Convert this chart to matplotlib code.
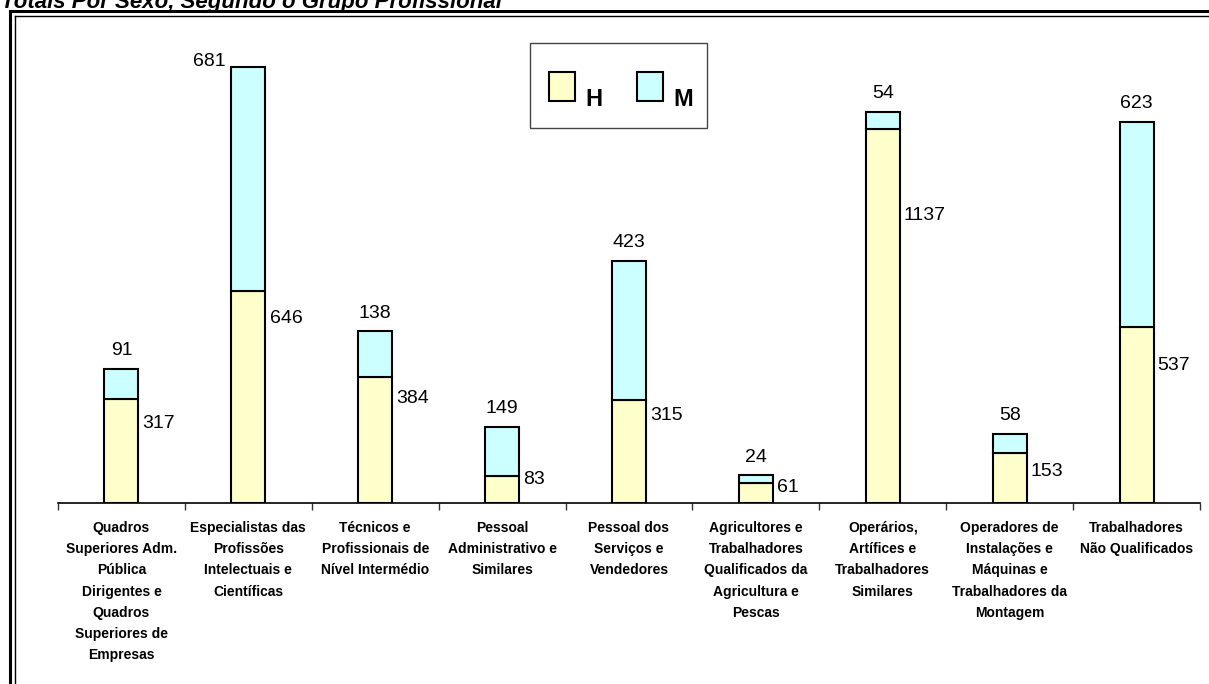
import matplotlib
matplotlib.use("Agg")
import matplotlib.pyplot as plt
from matplotlib.patches import Rectangle
from matplotlib.lines import Line2D

plt.rcParams["font.family"] = ["Liberation Sans", "DejaVu Sans"]

TITLE = "Totais Por Sexo, Segundo o Grupo Profissional"
CATEGORIES = [
    "Quadros\nSuperiores Adm.\nPública\nDirigentes e\nQuadros\nSuperiores de\nEmpresas",
    "Especialistas das\nProfissões\nIntelectuais e\nCientíficas",
    "Técnicos e\nProfissionais de\nNível Intermédio",
    "Pessoal\nAdministrativo e\nSimilares",
    "Pessoal dos\nServiços e\nVendedores",
    "Agricultores e\nTrabalhadores\nQualificados da\nAgricultura e\nPescas",
    "Operários,\nArtífices e\nTrabalhadores\nSimilares",
    "Operadores de\nInstalações e\nMáquinas e\nTrabalhadores da\nMontagem",
    "Trabalhadores\nNão Qualificados",
]
HOMENS = [317, 646, 384, 83, 315, 61, 1137, 153, 537]
MULHERES = [91, 681, 138, 149, 423, 24, 54, 58, 623]
SERIES_LABELS = ["H", "M"]

# where the H label sits, as a fraction of the H segment (hand placed in the source)
H_LABEL_FRAC = [0.76, 0.87, 0.83, 0.88, 0.85, 0.75, 0.77, 0.62, 0.78]

COLOR_H = "#FFFFCC"
COLOR_M = "#CCFFFF"

W, H = 1209, 684
fig = plt.figure(figsize=(W / 100, H / 100), dpi=100)


def fx(x):
    return x / W


def fy(y):
    return 1 - y / H


ax = fig.add_axes([fx(58), fy(503), fx(1200) - fx(58), fy(43) - fy(503)])

x = list(range(len(CATEGORIES)))
bw = 0.268
ax.bar(x, HOMENS, width=bw, color=COLOR_H, edgecolor="black", linewidth=1.5, zorder=3)
ax.bar(x, MULHERES, width=bw, bottom=HOMENS, color=COLOR_M, edgecolor="black",
       linewidth=1.5, zorder=3)

ax.set_xlim(-0.5, len(CATEGORIES) - 0.5)
ax.set_ylim(0, 1400)
for s in ["top", "right", "left"]:
    ax.spines[s].set_visible(False)
ax.spines["bottom"].set_linewidth(1.2)
ax.set_yticks([])
ax.set_xticks([i - 0.5 for i in range(len(CATEGORIES) + 1)])
ax.set_xticklabels([])
ax.tick_params(axis="x", direction="out", length=5, width=1, color="#333333")

# category labels
for i, lab in enumerate(CATEGORIES):
    ax.annotate(lab, xy=(i, 0), xycoords=("data", "axes fraction"),
                xytext=(0, -13), textcoords="offset points",
                ha="center", va="top", fontsize=10, fontweight="bold",
                linespacing=1.65)

# value labels
for i, (h, m) in enumerate(zip(HOMENS, MULHERES)):
    total = h + m
    if i == 1:
        ax.annotate(str(m), xy=(i - bw / 2, total), xytext=(-4, 4),
                    textcoords="offset points", ha="right", va="center",
                    fontsize=14)
    else:
        ax.annotate(str(m), xy=(i, total), xytext=(0, 13),
                    textcoords="offset points", ha="center", va="center",
                    fontsize=14)
    ax.annotate(str(h), xy=(i + bw / 2, h * H_LABEL_FRAC[i]), xytext=(3, 0),
                textcoords="offset points", ha="left", va="center",
                fontsize=14)

# legend box drawn by hand
fig.patches.append(Rectangle((fx(530), fy(128)), fx(707) - fx(530), fy(43) - fy(128),
                             transform=fig.transFigure, facecolor="white",
                             edgecolor="#444444", linewidth=1.0))
for sx, color, lab in [(549, COLOR_H, SERIES_LABELS[0]), (637, COLOR_M, SERIES_LABELS[1])]:
    fig.patches.append(Rectangle((fx(sx), fy(101)), fx(sx + 26) - fx(sx), fy(72) - fy(101),
                                 transform=fig.transFigure, facecolor=color,
                                 edgecolor="black", linewidth=1.5))
    fig.text(fx(sx + 36), fy(106), lab, ha="left", va="baseline",
             fontsize=17, fontweight="bold")

# double frame (left + top)
fig.add_artist(Line2D([fx(10), fx(10)], [0, fy(11)], color="black", linewidth=2.2))
fig.add_artist(Line2D([fx(14.5), fx(14.5)], [0, fy(15.5)], color="black", linewidth=1.0))
fig.add_artist(Line2D([fx(10), 1], [fy(11), fy(11)], color="black", linewidth=2.2))
fig.add_artist(Line2D([fx(14.5), 1], [fy(15.5), fy(15.5)], color="black", linewidth=1.0))

# title, cut off at the top edge as in the source
fig.text(fx(1), fy(8), TITLE, ha="left", va="baseline", fontsize=16,
         fontweight="bold", fontstyle="italic")

fig.savefig("out.png", dpi=100)
